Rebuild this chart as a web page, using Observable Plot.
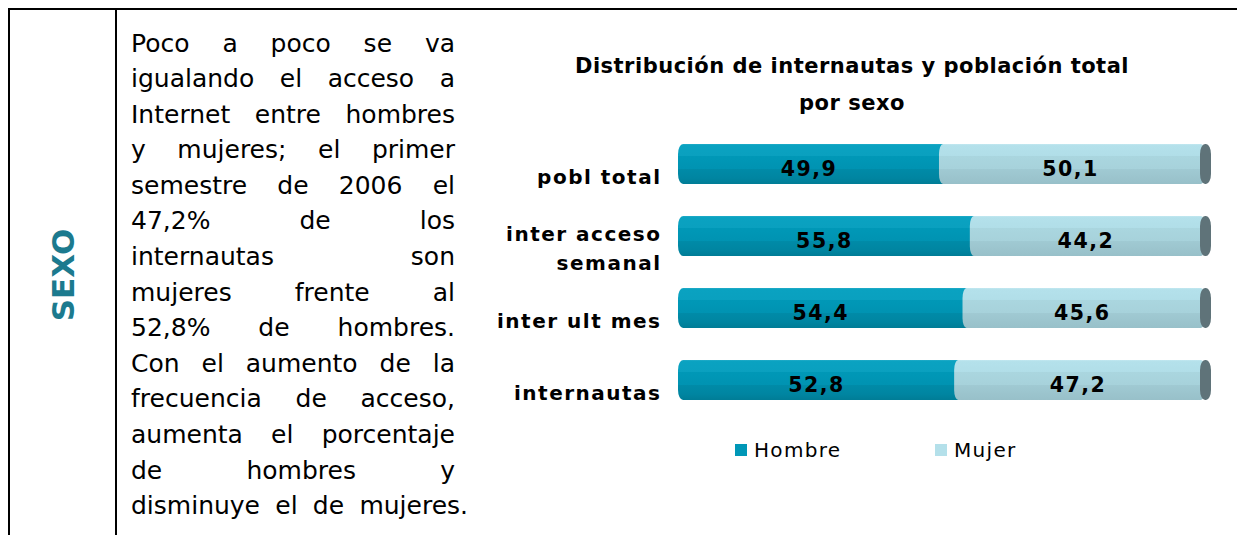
<!DOCTYPE html>
<html>
<head>
<meta charset="utf-8">
<script src="https://cdn.jsdelivr.net/npm/d3@7"></script>
<script src="https://cdn.jsdelivr.net/npm/@observablehq/plot@0.6"></script>
<style>
  html, body { margin: 0; padding: 0; background: #fff; }
  body { width: 1237px; height: 535px; overflow: hidden; position: relative; font-family: "DejaVu Sans", Verdana, sans-serif; color: #000; }
  .rule { position: absolute; background: #000; }
  #side { position: absolute; left: 63px; top: 275px; transform: translate(-50%, -50%) rotate(-90deg); font: bold 31px "DejaVu Sans", sans-serif; color: #1c7a8e; white-space: nowrap; }
  #para { position: absolute; left: 131px; top: 25.5px; width: 324px; font-size: 25px; line-height: 35.6px; }
  #para div { text-align: justify; text-align-last: justify; }
  #title { position: absolute; left: 552px; top: 47.5px; width: 600px; text-align: center; font: bold 21px "DejaVu Sans", sans-serif; letter-spacing: 0.5px; line-height: 37px; }
  #chart { position: absolute; left: 470px; top: 120px; }
  .lg-sw { position: absolute; width: 12px; height: 12px; }
  .lg-tx { position: absolute; font: 20px "DejaVu Sans", sans-serif; letter-spacing: 1.3px; line-height: 24px; }
</style>
</head>
<body>
<div class="rule" style="left:8px; top:8px; width:1229px; height:2px;"></div>
<div class="rule" style="left:8px; top:8px; width:2px; height:527px;"></div>
<div class="rule" style="left:115px; top:8px; width:2px; height:527px;"></div>
<div id="side"></div>
<div id="para"></div>
<div id="title"></div>
<div id="chart"></div>
<div id="legend"></div>
<script>
// ---- data ----
const sideLabel = "SEXO";
const paragraphLines = [
  "Poco a poco se va",
  "igualando el acceso a",
  "Internet entre hombres",
  "y mujeres; el primer",
  "semestre de 2006 el",
  "47,2% de los",
  "internautas son",
  "mujeres frente al",
  "52,8% de hombres.",
  "Con el aumento de la",
  "frecuencia de acceso,",
  "aumenta el porcentaje",
  "de hombres y",
  "disminuye el de mujeres."
];
const titleLines = ["Distribución de internautas y población total", "por sexo"];
const categories = ["pobl total", "inter acceso semanal", "inter ult mes", "internautas"];
const tickLabels = ["pobl total", "inter acceso\nsemanal", "inter ult mes", "internautas"];
const series = ["Hombre", "Mujer"];
const hombre = [49.9, 55.8, 54.4, 52.8];
const mujer = [50.1, 44.2, 45.6, 47.2];
const seriesColors = ["#0097b7", "#b4e0ea"];
const capColor = "#5f7379";

// ---- text blocks ----
document.getElementById("side").textContent = sideLabel;
const para = d3.select("#para");
paragraphLines.forEach((t, i) => {
  const div = para.append("div").text(t);
  if (i === paragraphLines.length - 1) div.style("width", "337px");
});
d3.select("#title").html(titleLines.join("<br>"));

// ---- chart ----
const es = d3.formatLocale({decimal: ",", thousands: ".", grouping: [3], currency: ["", " €"]});
const fmt = es.format(".1f");
const rows = categories.map((c, i) => ({cat: c, h: hombre[i], m: mujer[i], total: hombre[i] + mujer[i]}));

const defs = () => {
  const d = d3.create("svg:defs");
  const grads = [
    ["gH", [[0, "#22acc8"], [0.04, "#0aa2c1"], [0.3, "#0aa0bf"], [0.3, "#0098b7"], [0.62, "#0093b2"], [0.62, "#008ba8"], [0.85, "#0085a1"], [1, "#007c96"]]],
    ["gM", [[0, "#c2e8f0"], [0.04, "#b4e1eb"], [0.3, "#b1dee8"], [0.3, "#aad6df"], [0.62, "#a7d2db"], [0.62, "#a0cad3"], [1, "#98c0c9"]]]
  ];
  for (const [id, stops] of grads) {
    const g = d.append("linearGradient").attr("id", id).attr("x1", 0).attr("x2", 0).attr("y1", 0).attr("y2", 1);
    for (const [o, c] of stops) g.append("stop").attr("offset", o).attr("stop-color", c);
  }
  return d.node();
};

const plot = Plot.plot({
  width: 751,
  height: 300,
  marginLeft: 208,
  marginRight: 20,
  marginTop: 8,
  marginBottom: 4,
  style: {background: "transparent", fontFamily: "DejaVu Sans, sans-serif", letterSpacing: "1.5px", overflow: "visible", color: "#000"},
  x: {domain: [0, 100], axis: null},
  y: {domain: categories, paddingInner: 0.444, paddingOuter: 0.222, round: false, label: null},
  marks: [
    defs,
    Plot.barX(rows, {y: "cat", x1: 0, x2: "h", fill: "url(#gH)", insetRight: -12, rx: 5, ry: 10}),
    Plot.barX(rows, {y: "cat", x1: "h", x2: "total", fill: "url(#gM)", insetRight: -4, rx: 4, ry: 10}),
    Plot.barX(rows, {y: "cat", x1: "total", x2: "total", fill: capColor, insetLeft: -1, insetRight: -10, rx: 5, ry: 10}),
    Plot.text(rows, {y: "cat", x: d => d.h / 2, text: d => fmt(d.h), fontSize: 20.5, fontWeight: "bold", fill: "#000", dy: 5}),
    Plot.text(rows, {y: "cat", x: d => d.h + d.m / 2, text: d => fmt(d.m), fontSize: 20.5, fontWeight: "bold", fill: "#000", dy: 5}),
    Plot.axisY({tickSize: 0, tickPadding: 17, fontSize: 20, fontWeight: "bold", dy: 10, lineHeight: 1.45, label: null,
      tickFormat: d => tickLabels[categories.indexOf(d)]})
  ]
});
document.getElementById("chart").appendChild(plot);

// ---- legend ----
const legendX = [735, 935];
const lg = d3.select("#legend");
series.forEach((s, i) => {
  lg.append("div").attr("class", "lg-sw").style("left", legendX[i] + "px").style("top", "444px").style("background", seriesColors[i]);
  lg.append("div").attr("class", "lg-tx").style("left", (legendX[i] + 19) + "px").style("top", "438px").text(s);
});
</script>
</body>
</html>
